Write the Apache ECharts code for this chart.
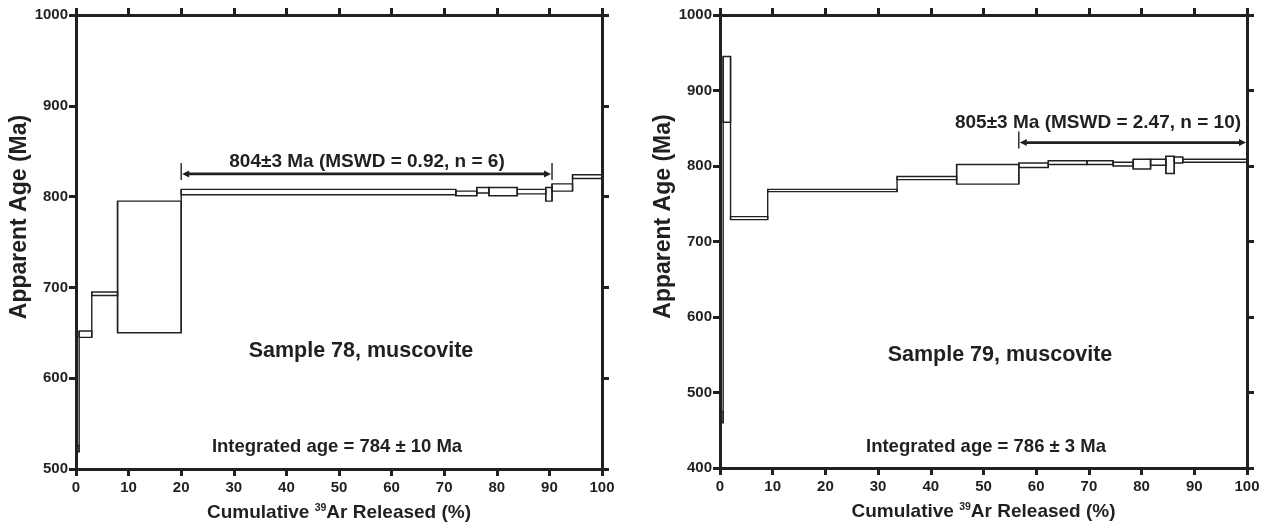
<!DOCTYPE html>
<html>
<head>
<meta charset="utf-8">
<title>Ar-Ar age spectra, samples 78 and 79</title>
<script src="https://cdn.jsdelivr.net/npm/echarts@6/dist/echarts.min.js"></script>
<style>
  html, body { margin: 0; padding: 0; background: #fff; }
  #chart { width: 1264px; height: 525px; }
</style>
</head>
<body>
<div id="chart"></div>
<script>
// Sample 78: step boundaries (cumulative %) and age envelope per step (Ma)
const cum78 = [0, 0.6, 3.0, 7.9, 20.0, 72.2, 76.2, 78.5, 83.9, 89.3, 90.5, 94.4, 100];
const lo78 = [519, 645, 691, 650, 802, 801, 804, 801, 803, 795, 806, 820];
const hi78 = [526, 652, 695, 795, 808, 806, 810, 810, 808, 810, 814, 824];
const plateau78 = [20.0, 90.5, 825];

// Sample 79
const cum79 = [0, 0.6, 2.0, 9.05, 33.6, 44.9, 56.7, 62.3, 69.6, 74.6, 78.4, 81.7, 84.6, 86.2, 87.8, 100];
const lo79 = [460, 858, 729, 766, 782, 776, 798, 802, 802, 800, 796, 801, 790, 804, 805];
const hi79 = [475, 945, 733, 769, 786, 802, 804, 807, 807, 805, 809, 809, 813, 812, 809];
const plateau79 = [56.7, 100, 831];

// axis ticks: [min, max, interval]
const xTicks = [0, 100, 10];
const yTicks78 = [500, 1000, 100];
const yTicks79 = [400, 1000, 100];

const INK = '#231f20';
const FONT = '"Liberation Sans", Arial, sans-serif';

// one row per step: [x0, x1, lo, hi, nextLo, nextHi]
function stepRows(cum, lo, hi) {
  return lo.map((v, i) => [cum[i], cum[i + 1], lo[i], hi[i],
    i < lo.length - 1 ? lo[i + 1] : NaN, i < lo.length - 1 ? hi[i + 1] : NaN]);
}

function renderStep(params, api) {
  const x0 = api.value(0), x1 = api.value(1);
  const lo = api.value(2), hi = api.value(3);
  const nLo = api.value(4), nHi = api.value(5);
  const a = api.coord([x0, hi]);
  const b = api.coord([x1, lo]);
  const style = { stroke: INK, fill: null, lineWidth: 1.4 };
  const children = [{
    type: 'rect',
    shape: { x: a[0], y: a[1], width: b[0] - a[0], height: b[1] - a[1] },
    style: style,
  }];
  // vertical join to the next step
  if (isFinite(nLo)) {
    const top = api.coord([x1, Math.max(hi, nHi)]);
    const bot = api.coord([x1, Math.min(lo, nLo)]);
    children.push({ type: 'line', shape: { x1: top[0], y1: top[1], x2: bot[0], y2: bot[1] }, style: style });
  }
  return { type: 'group', children: children };
}

function renderPlateau(params, api) {
  const p0 = api.coord([api.value(0), api.value(2)]);
  const p1 = api.coord([api.value(1), api.value(2)]);
  const y = p0[1];
  const st = { stroke: INK, lineWidth: 2.6 };
  return {
    type: 'group',
    children: [
      { type: 'line', shape: { x1: p0[0] + 4, y1: y, x2: p1[0] - 4, y2: y }, style: st },
      { type: 'line', shape: { x1: p0[0], y1: y - 11, x2: p0[0], y2: y + 6 }, style: { stroke: INK, lineWidth: 1.4 } },
      { type: 'line', shape: { x1: p1[0], y1: y - 11, x2: p1[0], y2: y + 6 }, style: { stroke: INK, lineWidth: 1.4 } },
      { type: 'polygon', shape: { points: [[p0[0] + 1, y], [p0[0] + 8, y - 3.5], [p0[0] + 8, y + 3.5]] }, style: { fill: INK } },
      { type: 'polygon', shape: { points: [[p1[0] - 1, y], [p1[0] - 8, y - 3.5], [p1[0] - 8, y + 3.5]] }, style: { fill: INK } },
    ],
  };
}

const tickStyle = { show: true, inside: false, length: 7, lineStyle: { color: INK, width: 3 } };
const lineStyle = { show: true, onZero: false, lineStyle: { color: INK, width: 3 } };
const labelStyle = { color: INK, fontFamily: FONT, fontWeight: 'bold', fontSize: 15,
  showMinLabel: true, showMaxLabel: true, formatter: v => String(v) };

function xAxes(gridIndex) {
  return [
    { gridIndex, type: 'value', position: 'bottom', min: xTicks[0], max: xTicks[1], interval: xTicks[2],
      axisLine: lineStyle, axisTick: tickStyle, splitLine: { show: false },
      axisLabel: Object.assign({ margin: 11 }, labelStyle),
      name: '{t|Cumulative }{s|39}{t|Ar Released (%)}', nameLocation: 'middle', nameGap: 34,
      nameTextStyle: { rich: {
        t: { fontFamily: FONT, fontWeight: 'bold', fontSize: 19, color: INK },
        s: { fontFamily: FONT, fontWeight: 'bold', fontSize: 10.5, color: INK, verticalAlign: 'top' },
      } } },
    { gridIndex, type: 'value', position: 'top', min: xTicks[0], max: xTicks[1], interval: xTicks[2],
      axisLine: lineStyle, axisTick: tickStyle, splitLine: { show: false }, axisLabel: { show: false } },
  ];
}

function yAxes(gridIndex, ticks) {
  return [
    { gridIndex, type: 'value', position: 'left', min: ticks[0], max: ticks[1], interval: ticks[2],
      axisLine: lineStyle, axisTick: tickStyle, splitLine: { show: false },
      axisLabel: Object.assign({ margin: 8 }, labelStyle),
      name: 'Apparent Age (Ma)', nameLocation: 'middle', nameGap: 37,
      nameTextStyle: { fontFamily: FONT, fontWeight: 'bold', fontSize: 23, color: INK, padding: [0, 0, 0, 50] } },
    { gridIndex, type: 'value', position: 'right', min: ticks[0], max: ticks[1], interval: ticks[2],
      axisLine: lineStyle, axisTick: tickStyle, splitLine: { show: false }, axisLabel: { show: false } },
  ];
}

function note(text, x, y, size) {
  return { type: 'text', x: x, y: y, silent: true,
    style: { text: text, align: 'center', verticalAlign: 'middle', fill: INK,
      font: 'bold ' + size + 'px ' + FONT } };
}

const chart = echarts.init(document.getElementById('chart'), null, { renderer: 'canvas' });
chart.setOption({
  animation: false,
  backgroundColor: '#fff',
  grid: [
    { left: 76, top: 15, width: 526, height: 454, containLabel: false, outerBoundsMode: 'none' },
    { left: 720, top: 15, width: 527, height: 453, containLabel: false, outerBoundsMode: 'none' },
  ],
  xAxis: xAxes(0).concat(xAxes(1)),
  yAxis: yAxes(0, yTicks78).concat(yAxes(1, yTicks79)),
  series: [
    { type: 'custom', xAxisIndex: 0, yAxisIndex: 0, renderItem: renderStep, data: stepRows(cum78, lo78, hi78), silent: true },
    { type: 'custom', xAxisIndex: 0, yAxisIndex: 0, renderItem: renderPlateau, data: [plateau78], silent: true },
    { type: 'custom', xAxisIndex: 2, yAxisIndex: 2, renderItem: renderStep, data: stepRows(cum79, lo79, hi79), silent: true },
    { type: 'custom', xAxisIndex: 2, yAxisIndex: 2, renderItem: renderPlateau, data: [plateau79], silent: true },
  ],
  graphic: [
    note('804\u00b13 Ma (MSWD = 0.92, n = 6)', 367, 162, 19),
    note('Sample 78, muscovite', 361, 351, 21.5),
    note('Integrated age = 784 \u00b1 10 Ma', 337, 447, 18.5),
    note('805\u00b13 Ma (MSWD = 2.47, n = 10)', 1098, 123, 19),
    note('Sample 79, muscovite', 1000, 355, 21.5),
    note('Integrated age = 786 \u00b1 3 Ma', 986, 447, 18.5),
  ],
});
</script>
</body>
</html>
